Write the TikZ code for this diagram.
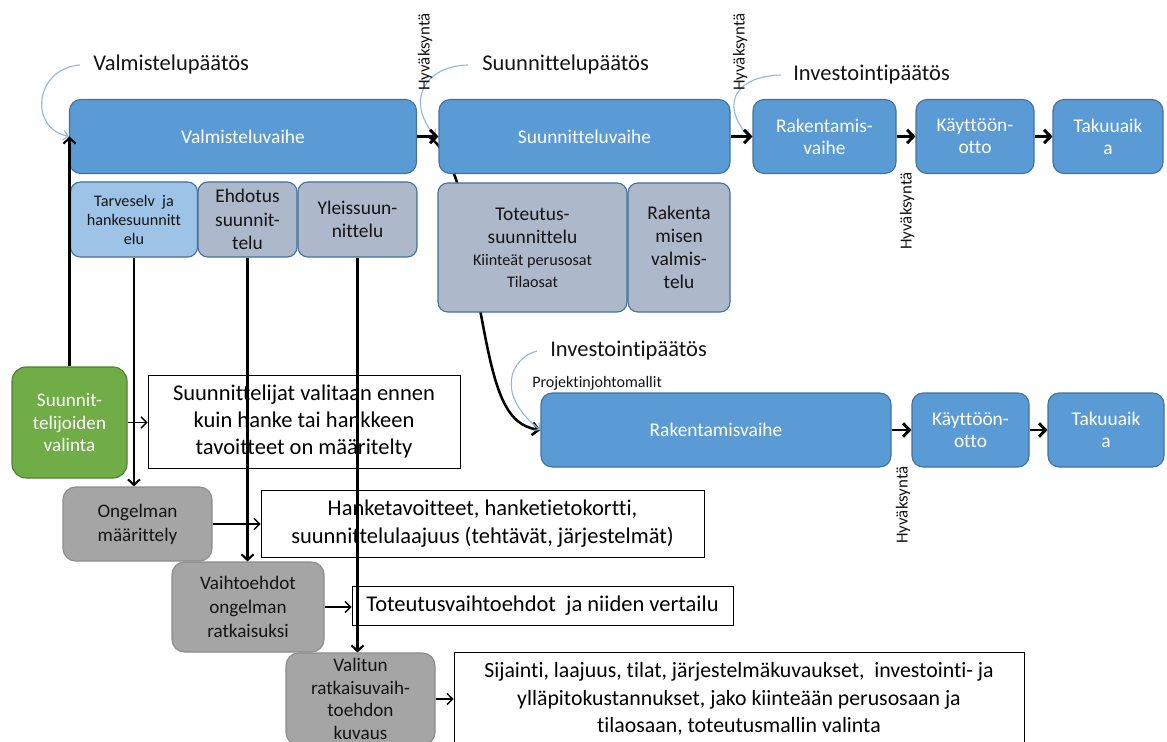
\documentclass[tikz,border=0pt]{standalone}
\usepackage{fontspec}
\setmainfont{Carlito}[Ligatures=NoCommon]
\usetikzlibrary{arrows.meta,backgrounds,calc}
\definecolor{phase}{HTML}{5B9BD5}
\definecolor{phaseedge}{HTML}{41719C}
\definecolor{lightphase}{HTML}{9DC3E6}
\definecolor{greyblue}{HTML}{ADB9CA}
\definecolor{selgreen}{HTML}{70AD47}
\definecolor{selgreenedge}{HTML}{507E32}
\definecolor{midgrey}{HTML}{A5A5A5}
\definecolor{midgreyedge}{HTML}{8C8C8C}
\definecolor{calloutc}{HTML}{8DB8E2}
\definecolor{txt}{HTML}{141414}
\newcommand{\fsz}[2]{\fontsize{#1}{#2}\selectfont}
\tikzset{
 pw/.style={minimum width=#1*0.025cm},
 ph/.style={minimum height=#1*0.025cm},
 phasebox/.style={draw=phaseedge, fill=phase, line width=0.8pt, rounded corners=8pt, text=white, align=center, inner sep=0pt, font=\fsz{13.8}{15.8}},
 subbox/.style={draw=phaseedge, fill=greyblue, line width=0.8pt, rounded corners=7pt, text=txt, align=center, inner sep=0pt, font=\fsz{13.8}{16.5}},
 lightbox/.style={subbox, fill=lightphase, font=\fsz{11.5}{13.5}},
 greenbox/.style={draw=selgreenedge, fill=selgreen, line width=0.8pt, rounded corners=10pt, text=white, align=center, inner sep=0pt, font=\fsz{13.6}{16.3}},
 greybox/.style={draw=midgreyedge, fill=midgrey, line width=0.8pt, rounded corners=9pt, text=txt, align=center, inner sep=0pt, font=\fsz{13.6}{17}},
 notebox/.style={draw=black, fill=white, line width=0.7pt, text=black, align=center, inner sep=0pt, font=\fsz{16}{19.5}},
 biglabel/.style={text=txt, inner sep=0pt, font=\fsz{16}{19}},
 smalllabel/.style={text=txt, inner sep=0pt, font=\fsz{11.4}{13}},
 approve/.style={text=txt, inner sep=0pt, rotate=90, font=\fsz{12}{14}},
 thickarrow/.style={draw=black, line width=2.1pt, -{Straight Barb[length=4.5pt,width=9.5pt]}},
 vertarrow/.style={draw=black, line width=1.5pt, -{Straight Barb[length=4pt,width=8.5pt]}},
 thinarrow/.style={draw=black, line width=0.9pt, -{Straight Barb[length=4pt,width=8pt]}},
 curvearrow/.style={draw=black, line width=1.8pt, -{Straight Barb[length=4.5pt,width=9pt]}},
 calloutline/.style={draw=calloutc, line width=0.8pt, -{Straight Barb[length=3.5pt,width=7pt]}},
}
\begin{document}
\begin{tikzpicture}[x=0.025cm,y=-0.025cm]
\useasboundingbox (0,0) rectangle (1167,742);
\clip (0,0) rectangle (1167,742);
% top phases
\node[phasebox,pw=347,ph=74] (V) at (243,136.5) {Valmisteluvaihe};
\node[phasebox,pw=291,ph=74] (S) at (584.5,136.5) {Suunnitteluvaihe};
\node[phasebox,pw=143,ph=74] (R) at (824.5,136.5) {Rakentamis-\\vaihe};
\node[phasebox,pw=118,ph=74] (K) at (975,136.5) {Käyttöön-\\otto};
\node[phasebox,pw=110,ph=74] (T) at (1108,136.5) {Takuuaik\\a};
% sub phases
\node[lightbox,pw=127,ph=75] (Tv) at (134,219.5) {Tarveselv\ \ ja\\hankesuunnitt\\elu};
\node[subbox,pw=99,ph=75] (Eh) at (247.5,219.5) {Ehdotus\\suunnit-\\telu};
\node[subbox,pw=119,ph=75] (Yl) at (357.5,219.5) {Yleissuun-\\nittelu};
\node[subbox,pw=189,ph=129] (To) at (532.5,247.5) {Toteutus-\\suunnittelu\\[-1pt]{\fsz{11.5}{13.5}Kiinteät perusosat}\\[-1pt]{\fsz{11.5}{13.5}Tilaosat}};
\node[subbox,pw=102,ph=129] (Rv) at (679,247.5) {Rakenta\\misen\\valmis-\\telu};
% second row
\node[phasebox,pw=350,ph=74] (R2) at (716,430) {Rakentamisvaihe};
\node[phasebox,pw=117,ph=74] (K2) at (970.5,430) {Käyttöön-\\otto};
\node[phasebox,pw=116,ph=74] (T2) at (1106,430) {Takuuaik\\a};
% left column
\node[greenbox,pw=115,ph=111] (G) at (69.5,422.5) {Suunnit-\\telijoiden\\valinta};
\node[notebox,pw=312,ph=93] (W1) at (304,421.5) {Suunnittelijat valitaan ennen\\kuin hanke tai hankkeen\\tavoitteet on määritelty};
\node[greybox,pw=149,ph=74] (O) at (137.5,524) {Ongelman\\määrittely};
\node[notebox,pw=443,ph=67] (W2) at (482.5,523.5) {Hanketavoitteet, hanketietokortti,\\suunnittelulaajuus (tehtävät, järjestelmät)};
\node[greybox,pw=152,ph=90] (Va) at (248,607) {Vaihtoehdot\\ongelman\\ratkaisuksi};
\node[notebox,pw=381,ph=39] (W3) at (542.5,605.5) {Toteutusvaihtoehdot\ \ ja niiden vertailu};
\node[greybox,pw=149,ph=92,font=\fsz{13.6}{16}] (Vl) at (360.5,699) {Valitun\\ratkaisuvaih-\\toehdon\\kuvaus};
\node[notebox,pw=570,ph=94,font=\fsz{15.5}{19.5}] (W4) at (739,699) {Sijainti, laajuus, tilat, järjestelmäkuvaukset,\ \ investointi- ja\\ylläpitokustannukset, jako kiinteään perusosaan ja\\tilaosaan, toteutusmallin valinta};
% labels
\node[biglabel,anchor=west] (L1) at (93,65) {Valmistelupäätös};
\node[biglabel,anchor=west] (L2) at (482,65) {Suunnittelupäätös};
\node[biglabel,anchor=west] (L3) at (793,75) {Investointipäätös};
\node[biglabel,anchor=west] (L4) at (550,351) {Investointipäätös};
\node[smalllabel,anchor=west] (PJ) at (532,383) {Projektinjohtomallit};
\node[approve] (H1) at (425,52) {Hyväksyntä};
\node[approve] (H2) at (740,52) {Hyväksyntä};
\node[approve] (H3) at (907,211) {Hyväksyntä};
\node[approve] (H4) at (903,505) {Hyväksyntä};
% background connectors
\begin{pgfonlayer}{background}
\draw[curvearrow] ($(V.east)!0.55!(S.west)$) .. controls (468,165) and (470,260) .. (482,320) .. controls (495,390) and (505,425) .. (R2.west);
\draw[calloutline] ([xshift=-0.325cm]L1.west) .. controls (35,68) and (28,128) .. (V.west);
\draw[calloutline] ([xshift=-0.35cm]L2.west) .. controls (425,66) and (405,100) .. ($(V.east)!0.85!(S.west)$);
\draw[calloutline] ([xshift=-0.3cm]L3.west) .. controls (740,76) and (718,100) .. ($(S.east)!0.8!(R.west)$);
\draw[calloutline] ([xshift=-0.325cm]L4.west) .. controls (510,358) and (495,395) .. (R2.west);
\end{pgfonlayer}
% arrows
\draw[thickarrow] (V.east) -- (S.west);
\draw[thickarrow] (S.east) -- (R.west);
\draw[thickarrow] (R.east) -- (K.west);
\draw[thickarrow] (K.east) -- (T.west);
\draw[thickarrow] (R2.east) -- (K2.west);
\draw[thickarrow] (K2.east) -- (T2.west);
\draw[vertarrow] (G.north) -- (G.north |- V.center);
\draw[vertarrow] (Tv.south) -- (Tv.south |- O.north);
\draw[vertarrow] (Eh.south) -- (Eh.south |- Va.north);
\draw[vertarrow] (Yl.south) -- (Yl.south |- Vl.north);
\draw[thinarrow] (G.east) -- (G.east -| W1.west);
\draw[thinarrow] (O.east) -- (O.east -| W2.west);
\draw[thinarrow] (Va.east) -- (Va.east -| W3.west);
\draw[thinarrow] (Vl.east) -- (Vl.east -| W4.west);
\end{tikzpicture}
\end{document}
